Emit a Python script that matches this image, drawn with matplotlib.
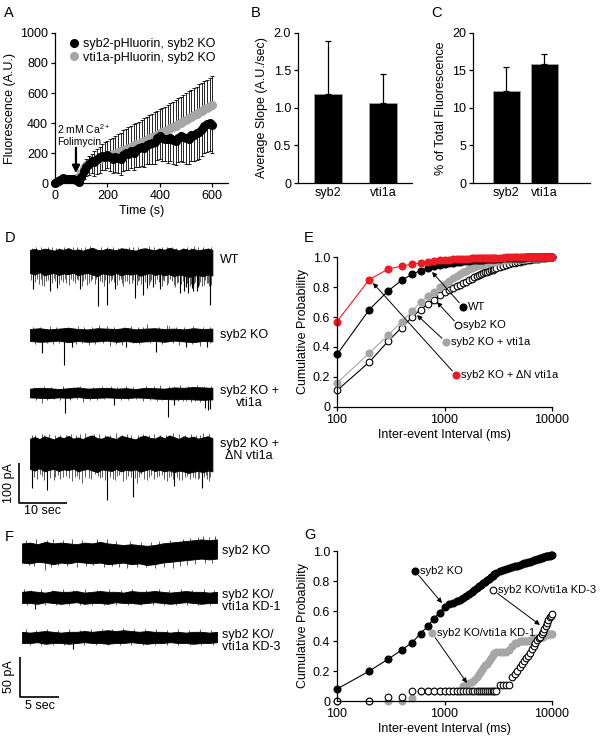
import numpy as np
import matplotlib
matplotlib.use("Agg")
import matplotlib.pyplot as plt
from matplotlib.lines import Line2D
from matplotlib.ticker import NullLocator

# ---------------- STYLE ----------------
plt.rcParams['font.family'] = ['Liberation Sans', 'DejaVu Sans']
plt.rcParams['mathtext.fontset'] = 'custom'
plt.rcParams['mathtext.rm'] = 'Liberation Sans'
plt.rcParams['font.size'] = 9
plt.rcParams['axes.linewidth'] = 0.9

FIG_W, FIG_H = 600, 739
GRAY = '#a6a6a6'
RED = '#ed1c24'

# ---------------- DATA: A (pHluorin time course) ----------------
A_TIME = np.arange(0, 601, 10)  # s
A_SYB2 = [0, 12, 22, 32, 30, 27, 30, 26, 22, 5,
          40, 80, 110, 130, 150, 140, 160, 170, 180, 175,
          185, 170, 160, 175, 165, 160, 185, 200, 195, 210,
          200, 220, 230, 240, 235, 255, 260, 265, 270, 300,
          310, 300, 295, 290, 300, 285, 280, 300, 310, 305,
          300, 295, 320, 320, 330, 340, 360, 380, 390, 400,
          385]
A_SYB2_ERR = [3, 8, 10, 12, 12, 12, 12, 12, 15, 15,
              40, 55, 65, 75, 85, 95, 100, 100, 95, 90,
              85, 90, 95, 100, 100, 105, 105, 110, 110, 110,
              110, 115, 120, 125, 125, 130, 135, 140, 140, 145,
              150, 150, 150, 155, 155, 160, 160, 160, 165, 165,
              170, 170, 172, 175, 175, 178, 180, 182, 183, 185,
              185]
A_VTI1A = [0, 10, 20, 30, 30, 28, 30, 30, 35, 40,
           70, 100, 120, 130, 140, 150, 155, 160, 170, 175,
           180, 185, 190, 195, 205, 210, 220, 225, 235, 240,
           250, 258, 262, 272, 280, 288, 298, 306, 313, 322,
           330, 340, 345, 355, 365, 370, 380, 390, 400, 410,
           418, 432, 438, 452, 458, 472, 478, 492, 500, 512,
           520]
A_VTI1A_ERR = [3, 6, 8, 10, 10, 10, 10, 12, 12, 15,
               20, 30, 40, 50, 55, 60, 70, 80, 90, 95,
               100, 105, 110, 115, 120, 125, 130, 135, 138, 140,
               140, 142, 145, 148, 150, 152, 155, 156, 158, 160,
               160, 162, 164, 166, 168, 170, 172, 174, 176, 178,
               180, 181, 182, 183, 184, 185, 186, 187, 188, 189,
               190]
A_LEGEND = ['syb2-pHluorin, syb2 KO', 'vti1a-pHluorin, syb2 KO']
A_YTICKS = [0, 200, 400, 600, 800, 1000]
A_XTICKS = [0, 200, 400, 600]

# ---------------- DATA: B, C (bars) ----------------
BAR_NAMES = ['syb2', 'vti1a']
B_SLOPE = [1.18, 1.06]
B_SLOPE_ERR = [0.71, 0.39]
B_YTICKS = [0, 0.5, 1.0, 1.5, 2.0]
B_YTICK_LABELS = ['0', '0.5', '1.0', '1.5', '2.0']
C_PCT = [12.2, 15.9]
C_PCT_ERR = [3.3, 1.3]
C_YTICKS = [0, 5, 10, 15, 20]

# ---------------- DATA: E, G (cumulative probability) ----------------
CUM_X = np.concatenate([np.arange(100, 3001, 100), np.arange(3250, 10001, 250)])  # ms bins
E_WT = [.35, .65, .775, .845, .885, .91, .925, .937, .945, .952,
        .957, .961, .965, .968, .971, .973, .975, .977, .979, .98,
        .981, .982, .983, .984, .985, .986, .987, .988, .988, .989,
        .99, .991, .992, .993, .994, .994, .995, .995, .996, .996,
        .997, .997, .997, .998, .998, .998, .998, .999, .999, .999,
        .999, .999, 1, 1, 1, 1, 1, 1]
E_DN = [.57, .85, .92, .94, .952, .96, .967, .973, .977, .98,
        .982, .984, .986, .987, .988, .989, .99, .991, .991, .992,
        .992, .993, .993, .994, .994, .994, .995, .995, .995, .995,
        .996, .996, .997, .997, .997, .998, .998, .998, .998, .998,
        .999, .999, .999, .999, .999, .999, .999, .999, 1, 1,
        1, 1, 1, 1, 1, 1, 1, 1]
E_VTI = [.16, .36, .48, .57, .64, .70, .74, .77, .80, .82,
         .84, .86, .875, .89, .90, .91, .92, .928, .935, .94,
         .945, .95, .954, .957, .96, .962, .964, .966, .968, .97,
         .974, .977, .98, .982, .984, .985, .986, .987, .988, .989,
         .99, .991, .992, .992, .993, .994, .995, .995, .996, .996,
         .997, .997, .998, .998, .999, .999, 1, 1]
E_KO = [.11, .30, .44, .53, .60, .65, .685, .715, .745, .765,
        .78, .795, .805, .815, .825, .835, .845, .855, .865, .872,
        .88, .886, .892, .898, .903, .908, .912, .916, .92, .924,
        .932, .94, .947, .953, .958, .963, .967, .97, .973, .976,
        .978, .98, .982, .984, .986, .988, .989, .99, .992, .993,
        .994, .995, .996, .997, .998, .999, 1, 1]
G_KO = [.08, .20, .28, .34, .39, .45, .50, .55, .59, .63,
        .645, .655, .665, .675, .69, .70, .715, .73, .74, .755,
        .765, .775, .785, .795, .805, .815, .825, .835, .845, .855,
        .865, .875, .882, .888, .893, .898, .903, .908, .913, .918,
        .922, .926, .93, .934, .938, .942, .946, .95, .953, .956,
        .959, .962, .964, .966, .968, .97, .972, .974]
G_KD3 = [0, 0, .03, .03, .07, .07, .07, .07, .07, .07,
         .07, .07, .07, .07, .07, .07, .07, .07, .07, .07,
         .07, .07, .07, .07, .07, .07, .07, .07, .07, .07,
         .11, .11, .11, .11, .16, .18, .20, .23, .25, .27,
         .29, .30, .32, .35, .37, .39, .41, .42, .43, .45,
         .46, .48, .50, .52, .54, .56, .57, .58]
G_KD1 = [0, 0, 0, 0, .02, .07, .07, .07, .07, .07,
         .07, .07, .07, .07, .10, .11, .12, .13, .14, .16,
         .18, .20, .22, .24, .25, .27, .29, .31, .32, .33,
         .33, .33, .33, .34, .37, .39, .39, .40, .40, .40,
         .40, .40, .41, .41, .41, .42, .42, .42, .43, .43,
         .43, .44, .44, .45, .45, .45, .45, .45]
CUM_YTICKS = [0, 0.2, 0.4, 0.6, 0.8, 1.0]
CUM_YTICK_LABELS = ['0', '0.2', '0.4', '0.6', '0.8', '1.0']
CUM_XTICKS = [100, 1000, 10000]

# ---------------- DATA: D, F (current traces, pA / s) ----------------
# band = envelope of the noise, down/up = single events that stick out of it
WT_TOP = [28, 30, 27, 31, 29, 26, 30, 28, 32, 27, 29, 26, 30, 33, 28, 27, 31, 29, 27, 32,
          30, 28, 26, 30, 32, 29, 27, 31, 28, 33, 30, 27, 31, 28, 30, 27, 29, 31, 28]
WT_BOT = [-30, -34, -28, -36, -32, -30, -35, -31, -33, -29, -36, -32, -30, -34, -38, -31, -33, -35, -30, -36,
          -32, -34, -31, -37, -33, -30, -35, -32, -36, -33, -38, -34, -36, -40, -37, -35, -38, -34, -36]
WT_DOWN_T = [0.7, 1.5, 2.6, 3.3, 4.2, 4.9, 5.7, 6.5, 7.6, 8.5, 9.7, 10.4, 11.0, 11.9, 13.0, 14.2, 15.0,
             16.0, 17.0, 17.7, 18.5, 19.4, 20.3, 21.2, 21.9, 22.8, 23.6, 24.3, 25.0, 25.7, 26.4, 27.1,
             28.0, 28.5, 29.2, 29.9, 30.6, 31.25, 31.8, 32.1, 33.0, 33.5, 34.0, 34.4, 34.7, 35.2, 35.8,
             36.5, 37.0, 37.5, 37.8,
             0.3, 1.1, 1.9, 2.2, 3.0, 3.7, 4.5, 5.3, 6.1, 6.9, 7.2, 8.1, 8.9, 9.3, 10.0, 10.8, 11.5,
             12.3, 12.7, 13.5, 13.8, 14.6, 15.4, 15.7, 16.4, 16.8, 17.4, 18.1, 18.9, 19.1, 19.8, 20.7,
             21.5, 22.2, 22.5, 23.2, 24.0, 24.7, 25.3, 26.0, 26.8, 27.5, 27.8, 28.8, 29.5, 30.2, 30.9,
             31.5, 32.4, 32.7, 33.3, 33.8, 34.2, 35.0, 35.5, 36.2, 36.8, 37.2]
WT_DOWN_A = [-71, -45, -59, -50, -76, -42, -67, -48, -55, -44, -46, -71, -50, -59, -46, -113, -52,
             -109, -44, -70, -48, -63, -50, -55, -92, -47, -84, -67, -52, -65, -45, -71,
             -50, -59, -44, -61, -55, -80, -50, -76, -80, -58, -76, -52, -76, -60, -63,
             -48, -54, -109, -59,
             -48, -52, -58, -44, -62, -47, -55, -49, -57, -52, -46, -60, -50, -56, -48, -62, -45,
             -54, -49, -58, -44, -51, -63, -47, -55, -49, -52, -60, -46, -55, -50, -58,
             -48, -61, -50, -57, -52, -60, -47, -58, -53, -62, -48, -55, -51, -64, -52,
             -58, -66, -54, -62, -68, -57, -65, -53, -60, -56, -62]
WT_UP_T = [1.2, 3.8, 6.1, 8.9, 12.5, 14.8, 17.2, 19.9, 22.5, 24.8, 27.6, 29.5, 31.9, 34.2, 36.1,
           0.5, 2.3, 3.1, 4.6, 5.5, 7.0, 7.8, 9.8, 10.7, 11.4, 13.3, 16.1, 18.4, 20.6, 21.5,
           23.3, 25.9, 26.8, 28.6, 30.4, 32.8, 33.6, 35.0, 37.0, 37.7]
WT_UP_A = [34, 36, 33, 35, 37, 34, 36, 33, 35, 38, 34, 36, 33, 37, 35,
           32, 35, 31, 34, 32, 36, 33, 35, 32, 34, 33, 35, 32, 34, 36,
           33, 35, 32, 34, 33, 35, 32, 34, 33, 35]

KO_TOP = [15, 17, 14, 16, 18, 15, 14, 17, 16, 15, 18, 14, 16, 17, 15, 16, 14, 17, 15, 16]
KO_BOT = [-15, -17, -16, -14, -18, -15, -17, -16, -14, -17, -15, -18, -16, -15, -17, -14, -16, -18, -15, -16]
KO_DOWN_T = [2.6, 7.1, 8.7, 12.2, 16.7, 20.1, 26.2, 32.6, 35.4, 36.8,
             1.0, 3.5, 4.8, 6.0, 9.6, 10.8, 13.5, 15.2, 18.0, 19.2, 21.5, 22.8, 24.9, 27.5,
             29.8, 31.0, 33.8, 37.5]
KO_DOWN_A = [-46, -75, -29, -25, -27, -29, -42, -29, -27, -30,
             -22, -21, -23, -20, -22, -21, -23, -20, -22, -24, -21, -23, -20, -22,
             -21, -24, -22, -21]
KO_UP_T = [14.4, 24.3, 28.5,
           0.6, 2.0, 4.1, 5.4, 8.0, 9.9, 11.3, 13.0, 16.0, 17.6, 19.6, 21.0, 22.4, 23.5, 26.8,
           29.0, 30.5, 32.0, 34.0, 36.0, 37.6]
KO_UP_A = [25, 28, 25,
           21, 20, 22, 21, 20, 22, 21, 20, 22, 21, 20, 22, 20, 21, 20,
           22, 21, 20, 22, 21, 20]

VTI_TOP = [11, 13, 12, 10, 12, 14, 11, 12, 13, 11, 12, 10, 13, 12, 11, 14, 13, 15, 14, 13]
VTI_BOT = [-11, -12, -13, -11, -12, -10, -13, -12, -11, -12, -13, -11, -12, -14, -15, -16, -15, -16, -17, -16]
VTI_DOWN_T = [2.4, 7.3, 11.1, 17.4, 23.6, 28.8, 29.9, 33.5, 36.5, 37.0, 37.5,
              1.2, 3.6, 5.0, 6.2, 8.4, 9.8, 12.5, 14.0, 15.5, 19.0, 20.5, 22.0, 25.0, 26.4,
              27.6, 30.8, 31.8, 32.6, 34.4, 35.5]
VTI_DOWN_A = [-26, -51, -22, -30, -20, -59, -30, -22, -38, -42, -41,
              -17, -18, -16, -17, -18, -16, -17, -18, -16, -17, -18, -16, -17, -19,
              -18, -20, -19, -21, -20, -22]
VTI_UP_T = [0.8, 2.9, 4.4, 6.8, 9.0, 10.5, 13.2, 15.0, 16.8, 18.2, 20.0, 21.5, 24.2, 25.8, 27.0,
            29.0, 31.2, 33.0, 34.8, 36.2, 37.8]
VTI_UP_A = [16, 17, 16, 18, 16, 17, 16, 17, 18, 16, 17, 16, 18, 17, 19,
            18, 19, 18, 19, 18, 17]

DN_TOP = [38, 42, 37, 44, 40, 36, 43, 39, 45, 38, 41, 37, 43, 46, 39, 38, 44, 40, 37, 45,
          42, 39, 36, 43, 45, 40, 38, 44, 39, 46, 42, 37, 44, 40, 43, 38, 41, 44, 39]
DN_BOT = [-38, -42, -36, -44, -40, -38, -43, -39, -41, -37, -44, -40, -38, -42, -46, -39, -41, -43, -38, -44,
          -40, -42, -39, -45, -41, -38, -43, -40, -44, -41, -46, -42, -44, -48, -45, -43, -46, -42, -44]
DN_DOWN_T = [0.35, 2.0, 3.5, 4.9, 5.8, 6.9, 8.7, 9.8, 10.8, 12.2, 13.5, 15.0, 16.1, 17.7, 18.6, 19.4,
             20.5, 21.4, 22.2, 23.2, 24.3, 25.3, 26.4, 27.4, 28.5, 29.3, 30.0, 31.6, 32.8, 34.4,
             35.8, 36.6, 37.2,
             0.9, 1.5, 2.6, 3.0, 4.2, 5.3, 6.3, 7.5, 8.1, 9.3, 10.3, 11.5, 12.8, 14.2, 14.6, 15.6,
             16.6, 17.2, 18.1, 19.9, 21.0, 21.8, 22.7, 23.7, 24.8, 25.8, 26.9, 27.9, 29.0, 29.7,
             30.6, 31.1, 32.2, 33.3, 33.9, 34.9, 35.3, 36.2, 36.9, 37.6]
DN_DOWN_A = [-86, -50, -90, -65, -52, -57, -69, -55, -73, -61, -50, -58, -115, -65, -52, -69,
             -55, -107, -73, -50, -65, -54, -57, -52, -69, -56, -80, -65, -55, -61,
             -86, -53, -69,
             -58, -62, -55, -66, -60, -57, -63, -56, -61, -58, -64, -57, -62, -55, -60, -66,
             -58, -62, -56, -64, -58, -61, -57, -63, -59, -62, -56, -64, -58, -62,
             -59, -66, -57, -63, -58, -62, -60, -57, -63, -58]
DN_UP_T = [1.0, 4.0, 7.5, 11.5, 14.3, 18.0, 21.0, 25.8, 29.8, 33.5, 36.0,
           0.4, 2.4, 3.0, 5.2, 6.2, 8.5, 9.5, 10.4, 12.6, 13.4, 15.6, 16.7, 19.2, 20.2, 22.4,
           23.6, 24.8, 27.0, 28.4, 31.0, 32.2, 34.5, 35.4, 37.2]
DN_UP_A = [48, 50, 47, 52, 49, 51, 48, 50, 53, 49, 51,
           46, 49, 46, 48, 47, 50, 46, 49, 47, 50, 46, 48, 47, 49, 47,
           50, 46, 48, 47, 50, 47, 48, 46, 49]

FKO_TOP = [12, 13, 11, 14, 12, 13, 12, 11, 13, 12, 14, 12, 11, 10, 11, 10, 9, 10, 12, 13, 14, 15, 16, 17, 16, 17]
FKO_BOT = [-12, -13, -11, -12, -14, -12, -13, -11, -12, -13, -12, -14, -13, -12, -14, -13, -15, -14, -12, -11,
           -10, -9, -8, -7, -8, -7]
FKO_DOWN_T = [0.9, 2.9, 4.6, 9.1, 13.4, 19.4, 21.1,
              1.5, 3.7, 5.8, 7.0, 8.2, 10.5, 11.6, 12.4, 14.8, 15.9, 17.0, 18.2, 20.3, 22.2, 23.5, 24.4]
FKO_DOWN_A = [-15, -21, -15, -15, -19, -19, -15,
              -16, -17, -16, -17, -16, -17, -16, -18, -17, -18, -19, -17, -16, -14, -13, -12]
FKO_UP_T = [0.5, 1.8, 3.2, 4.0, 5.3, 6.4, 7.7, 9.6, 10.9, 12.0, 13.9, 15.2, 16.5, 17.6, 19.0,
            20.7, 21.6, 22.6, 23.2, 24.0, 24.7]
FKO_UP_A = [16, 17, 16, 18, 16, 17, 16, 17, 18, 15, 15, 14, 14, 15, 16,
            18, 19, 20, 21, 20, 21]
KD1_TOP = [7, 8, 7, 6, 8, 7, 7, 8, 6, 7, 8, 7, 7, 6, 8, 7, 7, 8, 7, 6, 7, 8, 7, 7, 6, 7]
KD1_BOT = [-7, -7, -8, -6, -7, -8, -7, -6, -8, -7, -7, -8, -6, -7, -7, -8, -7, -6, -7, -8, -7, -6, -7, -8, -7, -7]
KD1_DOWN_T = [1.7, 9.0, 0.6, 3.0, 4.4, 6.0, 7.5, 10.5, 12.0, 13.6, 15.2, 16.8, 18.2, 19.7, 21.2, 22.6, 24.1]
KD1_DOWN_A = [-14, -10, -10, -10, -9, -10, -9, -10, -9, -10, -9, -10, -9, -10, -9, -10, -9]
KD1_UP_T = [0.3, 1.2, 2.5, 3.8, 5.2, 6.6, 8.1, 9.6, 11.2, 12.7, 14.1, 15.9, 17.5, 18.9, 20.4, 21.8, 23.3, 24.6]
KD1_UP_A = [10, 9, 10, 9, 10, 9, 10, 9, 10, 9, 10, 9, 10, 9, 10, 9, 10, 9]
KD3_TOP = [7, 6, 7, 8, 7, 6, 7, 7, 8, 7, 8, 9, 8, 9, 8, 7, 8, 7, 7, 6, 7, 6, 7, 7, 6, 7]
KD3_BOT = [-7, -7, -6, -8, -7, -7, -8, -7, -6, -7, -7, -8, -7, -7, -6, -7, -8, -7, -7, -6, -7, -7, -8, -7, -7, -6]
KD3_DOWN_T = [6.6, 11.0, 1.0, 2.5, 4.0, 5.4, 8.0, 9.5, 12.5, 14.0, 15.5, 17.0, 18.6, 20.0, 21.5, 23.0, 24.5]
KD3_DOWN_A = [-15, -10, -10, -9, -10, -9, -10, -9, -10, -9, -10, -9, -10, -9, -10, -9, -10]
KD3_UP_T = [0.5, 1.8, 3.2, 4.6, 6.0, 7.4, 8.8, 10.2, 11.6, 13.0, 14.4, 15.8, 17.2, 18.6, 20.0, 21.4, 22.8, 24.2]
KD3_UP_A = [10, 9, 10, 9, 10, 9, 10, 11, 11, 12, 11, 10, 10, 9, 10, 9, 10, 9]

# ---------------- LAYOUT HELPERS ----------------
fig = plt.figure(figsize=(FIG_W / 100, FIG_H / 100), dpi=100)


def px(x, y):
    """pixel position (from top-left) -> figure fraction"""
    return x / FIG_W, 1 - y / FIG_H


def add_axes(left, top, right, bottom):
    return fig.add_axes([left / FIG_W, 1 - bottom / FIG_H,
                         (right - left) / FIG_W, (bottom - top) / FIG_H])


def prism(ax):
    for s in ('top', 'right'):
        ax.spines[s].set_visible(False)
    ax.tick_params(direction='out', length=3, width=0.9, labelsize=9, pad=2)


def panel_letter(x, y, s):
    fig.text(*px(x, y), s, fontsize=10.5, ha='left', va='center')


# ---------------- A ----------------
axA = add_axes(55, 33, 228, 183)
prism(axA)
zeros = np.zeros(len(A_TIME))
axA.errorbar(A_TIME, A_VTI1A, yerr=[zeros, A_VTI1A_ERR], fmt='o', ms=5.5, color=GRAY,
             ecolor='k', elinewidth=0.6, capsize=1.5, capthick=0.6, clip_on=False)
axA.errorbar(A_TIME, A_SYB2, yerr=[A_SYB2_ERR, zeros], fmt='o', ms=5.5, color='k',
             ecolor='k', elinewidth=0.6, capsize=1.5, capthick=0.6, clip_on=False)
axA.set_xlim(0, 660)
axA.set_ylim(0, 1000)
axA.set_xticks(A_XTICKS)
axA.set_yticks(A_YTICKS)
axA.set_xlabel('Time (s)', labelpad=2)
axA.set_ylabel('Fluorescence (A.U.)', labelpad=3)
handles = [Line2D([], [], marker='o', ls='none', color='k', ms=5.5),
           Line2D([], [], marker='o', ls='none', color=GRAY, ms=5.5)]
axA.legend(handles, A_LEGEND, loc='upper left', bbox_to_anchor=(0.04, 1.0), frameon=False,
           handletextpad=0.05, handlelength=1.2, borderaxespad=0, labelspacing=0.15, fontsize=9)
axA.text(8, 240, '2 mM Ca$^{2+}$\nFolimycin', fontsize=7.5, ha='left', va='bottom', linespacing=1.15)
axA.annotate('', xy=(80, 65), xytext=(80, 235),
             arrowprops=dict(arrowstyle='-|>', lw=1.6, color='k', mutation_scale=11, shrinkA=0, shrinkB=0))

# ---------------- B ----------------
bar_pos = np.arange(len(BAR_NAMES))
axB = add_axes(298, 33, 412, 183)
prism(axB)
axB.bar(bar_pos, B_SLOPE, width=0.52, color='k', edgecolor=GRAY, lw=0.5,
        yerr=[[0, 0], B_SLOPE_ERR], error_kw=dict(ecolor='k', elinewidth=0.9, capsize=2.5, capthick=0.9))
axB.set_xlim(-0.545, 1.53)
axB.set_ylim(0, 2.0)
axB.set_yticks(B_YTICKS)
axB.set_yticklabels(B_YTICK_LABELS)
axB.set_xticks(bar_pos)
axB.set_xticklabels(BAR_NAMES)
axB.tick_params(axis='x', length=0, pad=3)
axB.set_ylabel('Average Slope (A.U./sec)', labelpad=4)

# ---------------- C ----------------
axC = add_axes(473, 33, 590, 183)
prism(axC)
axC.bar(bar_pos, C_PCT, width=0.71, color='k', edgecolor=GRAY, lw=0.5,
        yerr=[[0, 0], C_PCT_ERR], error_kw=dict(ecolor='k', elinewidth=0.9, capsize=2.5, capthick=0.9))
axC.set_xlim(-0.87, 2.21)
axC.set_ylim(0, 20)
axC.set_yticks(C_YTICKS)
axC.set_xticks(bar_pos)
axC.set_xticklabels(BAR_NAMES)
axC.tick_params(axis='x', length=0, pad=3)
axC.set_ylabel('% of Total Fluorescence', labelpad=4)


# ---------------- E, G ----------------
def cum_axes(top, bottom):
    ax = add_axes(337, top, 552, bottom)
    prism(ax)
    ax.set_xscale('log')
    ax.set_xlim(100, 10000)
    ax.set_ylim(0, 1)
    ax.set_xticks(CUM_XTICKS)
    ax.set_xticklabels([str(v) for v in CUM_XTICKS])
    ax.xaxis.set_minor_locator(NullLocator())
    ax.set_yticks(CUM_YTICKS)
    ax.set_yticklabels(CUM_YTICK_LABELS)
    ax.set_xlabel('Inter-event Interval (ms)', labelpad=2)
    ax.set_ylabel('Cumulative Probability', labelpad=3)
    return ax


def cum_label(ax, xy, text, head, **mk):
    ax.plot(*xy, marker='o', ms=4.8, ls='none', clip_on=False, **mk)
    ax.annotate(text, xy=xy, xytext=(3.5, 0), textcoords='offset points',
                va='center', ha='left', fontsize=8)
    ax.annotate('', xy=head, xytext=xy,
                arrowprops=dict(arrowstyle='-|>', color='k', lw=0.7, shrinkA=4, shrinkB=0,
                                mutation_scale=7))


MS = 4.8
axE = cum_axes(257, 407)
axE.plot(CUM_X, E_KO, '-o', color='k', mfc='w', mec='k', mew=0.8, ms=MS, lw=0.8, clip_on=False)
axE.plot(CUM_X, E_VTI, '-o', color=GRAY, ms=MS, lw=0.8, clip_on=False)
axE.plot(CUM_X, E_WT, '-o', color='k', ms=MS, lw=0.8, clip_on=False)
axE.plot(CUM_X, E_DN, '-o', color=RED, ms=MS, lw=0.8, clip_on=False)
cum_label(axE, (1486, 0.667), 'WT', (766, 0.90), color='k')
cum_label(axE, (1336, 0.547), 'syb2 KO', (851, 0.70), mfc='w', mec='k', mew=0.8)
cum_label(axE, (1033, 0.433), 'syb2 KO + vti1a', (555, 0.613), color=GRAY)
cum_label(axE, (1279, 0.213), 'syb2 KO + \u0394N vti1a', (216, 0.827), color=RED)

axG = cum_axes(551, 701)
axG.plot(CUM_X, G_KD1, 'o', color=GRAY, ms=MS, clip_on=False)
axG.plot(CUM_X, G_KD3, 'o', mfc='w', mec='k', mew=0.8, ms=MS, clip_on=False)
axG.plot(CUM_X, G_KO, '-o', color='k', ms=MS, lw=0.8, clip_on=False)
cum_label(axG, (532, 0.867), 'syb2 KO', (948, 0.653), color='k')
cum_label(axG, (2825, 0.74), 'syb2 KO/vti1a KD-3', (7727, 0.507), mfc='w', mec='k', mew=0.8)
cum_label(axG, (766, 0.453), 'syb2 KO/vti1a KD-1', (1618, 0.12), color=GRAY)


# ---------------- D, F (traces) ----------------
def draw_trace(ax, base, dt, top, bot, down_t, down_a, up_t, up_a):
    t = dt * np.arange(len(top))
    edge = max(max(top), -min(bot))
    ax.fill_between(t, base + np.asarray(bot), base + np.asarray(top), color='k', lw=0.6)
    for ev_t, ev_a in ((down_t, down_a), (up_t, up_a)):
        ev_a = np.asarray(ev_a)
        # events well outside the noise band are drawn a bit heavier
        lw = np.where(np.abs(ev_a) > edge * 1.6, 0.8, 0.45)
        ax.vlines(ev_t, base, base + ev_a, color='k', linewidths=lw)


def scale_bar(ax, x0, y0, dx, dy):
    ax.plot([x0, x0, x0 + dx], [y0 + dy, y0, y0], color='k', lw=1.2, solid_capstyle='butt')


axD = add_axes(0, 225, 300, 525)
axD.set_xlim(-6.25, 56.25)
axD.set_ylim(-750, 0)
axD.axis('off')
draw_trace(axD, -90, 1, WT_TOP, WT_BOT, WT_DOWN_T, WT_DOWN_A, WT_UP_T, WT_UP_A)
draw_trace(axD, -275, 2, KO_TOP, KO_BOT, KO_DOWN_T, KO_DOWN_A, KO_UP_T, KO_UP_A)
draw_trace(axD, -420, 2, VTI_TOP, VTI_BOT, VTI_DOWN_T, VTI_DOWN_A, VTI_UP_T, VTI_UP_A)
draw_trace(axD, -572, 1, DN_TOP, DN_BOT, DN_DOWN_T, DN_DOWN_A, DN_UP_T, DN_UP_A)
scale_bar(axD, -2.3, -695, 10, 100)
fig.text(*px(9, 483), '100 pA', rotation=90, ha='center', va='center')
fig.text(*px(43, 511), '10 sec', ha='center', va='center')

fig.text(*px(220, 260), 'WT', ha='left', va='center')
fig.text(*px(220, 335), 'syb2 KO', ha='left', va='center')
fig.text(*px(249, 397), 'syb2 KO +\nvti1a', ha='center', va='center', linespacing=1.1)
fig.text(*px(249, 450), 'syb2 KO +\n\u0394N vti1a', ha='center', va='center', linespacing=1.1)

axF = add_axes(0, 535, 300, 739)
axF.set_xlim(-2.82, 35.64)
axF.set_ylim(-255, 0)
axF.axis('off')
draw_trace(axF, -22.5, 1, FKO_TOP, FKO_BOT, FKO_DOWN_T, FKO_DOWN_A, FKO_UP_T, FKO_UP_A)
draw_trace(axF, -78, 1, KD1_TOP, KD1_BOT, KD1_DOWN_T, KD1_DOWN_A, KD1_UP_T, KD1_UP_A)
draw_trace(axF, -128, 1, KD3_TOP, KD3_BOT, KD3_DOWN_T, KD3_DOWN_A, KD3_UP_T, KD3_UP_A)
scale_bar(axF, -0.26, -202.5, 5, 50)
fig.text(*px(9, 677), '50 pA', rotation=90, ha='center', va='center')
fig.text(*px(40, 706), '5 sec', ha='center', va='center')

fig.text(*px(222, 551), 'syb2 KO', ha='left', va='center')
fig.text(*px(222, 601), 'syb2 KO/\nvti1a KD-1', ha='left', va='center', linespacing=1.1)
fig.text(*px(222, 641), 'syb2 KO/\nvti1a KD-3', ha='left', va='center', linespacing=1.1)

# ---------------- PANEL LETTERS ----------------
panel_letter(4, 13, 'A')
panel_letter(251, 13, 'B')
panel_letter(431, 13, 'C')
panel_letter(5, 238, 'D')
panel_letter(304, 238, 'E')
panel_letter(5, 537, 'F')
panel_letter(304, 535, 'G')

fig.savefig('out.png', dpi=100)
